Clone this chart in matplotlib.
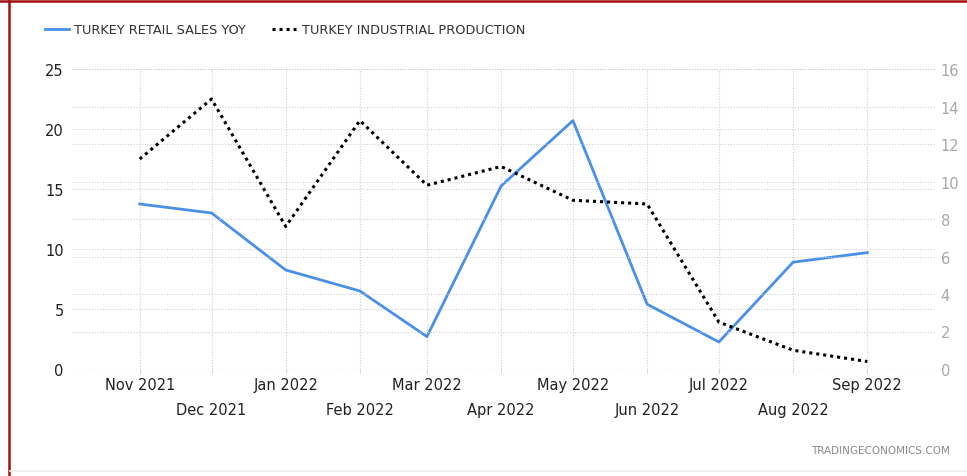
import matplotlib
matplotlib.use("Agg")
import matplotlib.pyplot as plt
import matplotlib.dates as mdates
from matplotlib.lines import Line2D
import datetime as dt

# ---- data ----
months = ["2021-11", "2021-12", "2022-01", "2022-02", "2022-03", "2022-04",
          "2022-05", "2022-06", "2022-07", "2022-08", "2022-09"]
month_labels = ["Nov 2021", "Dec 2021", "Jan 2022", "Feb 2022", "Mar 2022", "Apr 2022",
                "May 2022", "Jun 2022", "Jul 2022", "Aug 2022", "Sep 2022"]
retail_sales_yoy = [13.75, 13.0, 8.25, 6.5, 2.7, 15.25, 20.7, 5.4, 2.25, 8.9, 9.7]
industrial_production = [11.2, 14.4, 7.6, 13.25, 9.8, 10.8, 9.0, 8.8, 2.5, 1.0, 0.4]
left_ticks = [0, 5, 10, 15, 20, 25]
right_ticks = [0, 2, 4, 6, 8, 10, 12, 14, 16]

dates = [dt.datetime.strptime(m, "%Y-%m") for m in months]

W, H = 967, 477
fig = plt.figure(figsize=(W / 100, H / 100), dpi=100)
fig.patch.set_facecolor("white")

ax = fig.add_axes([72 / W, (H - 370) / H, (935 - 72) / W, 300 / H])
ax2 = ax.twinx()

grid_col = "#cfcfcf"
dot = (0, (1, 1.5))

for v in left_ticks:
    ax.axhline(v, color=grid_col, lw=0.8, ls=dot, zorder=0)
for v in right_ticks:
    ax2.axhline(v, color=grid_col, lw=0.8, ls=dot, zorder=0)
for d in dates:
    ax.axvline(d, color=grid_col, lw=0.8, ls=dot, zorder=0)

l1, = ax.plot(dates, retail_sales_yoy, color="#4a90e8", lw=2.0, zorder=3,
              solid_joinstyle="round")
l2, = ax2.plot(dates, industrial_production, color="black", lw=2.2,
               ls=(0, (1, 1.3)), zorder=3)

ax.set_ylim(0, 25)
ax2.set_ylim(0, 16)
ax.set_yticks(left_ticks)
ax2.set_yticks(right_ticks)

pad_days = 28.3
ax.set_xlim(dates[0] - dt.timedelta(days=pad_days), dates[-1] + dt.timedelta(days=pad_days))

ax.set_xticks(dates[0::2])
ax.set_xticklabels(month_labels[0::2])
ax.set_xticks(dates[1::2], minor=True)
ax.set_xticklabels(month_labels[1::2], minor=True)

lab_col = "#222222"
ax.tick_params(axis="x", which="major", length=3, color=grid_col, pad=2.5,
               labelsize=10.5, labelcolor=lab_col)
ax.tick_params(axis="x", which="minor", length=3, color=grid_col, pad=20.5,
               labelsize=10.5, labelcolor=lab_col)
ax.tick_params(axis="y", length=0, pad=6, labelsize=10.5, labelcolor=lab_col)
ax2.tick_params(axis="y", length=0, pad=4, labelsize=10.5, labelcolor="#a8a8a8")

for a in (ax, ax2):
    for s in a.spines.values():
        s.set_visible(False)

fig.legend([l1, l2], ["TURKEY RETAIL SALES YOY", "TURKEY INDUSTRIAL PRODUCTION"],
           loc="center left", bbox_to_anchor=(33 / W, 1 - 31 / H), ncol=2,
           frameon=False, fontsize=9.3, handlelength=1.9, handletextpad=0.4,
           columnspacing=2.0, labelcolor="#333333")

fig.text(950 / W, 1 - 451 / H, "TRADINGECONOMICS.COM", ha="right", va="center",
         fontsize=7.5, color="#8a8a8a")

fig.add_artist(Line2D([0, 1], [1 - 2 / H, 1 - 2 / H], transform=fig.transFigure,
                      color="#a30f0f", lw=1.8))
fig.add_artist(Line2D([8.5 / W, 8.5 / W], [0, 1 - 2 / H], transform=fig.transFigure,
                      color="#a30f0f", lw=1.8))
fig.add_artist(Line2D([10 / W, 1], [1 - 472 / H, 1 - 472 / H], transform=fig.transFigure,
                      color="#eeeeee", lw=1.2))

fig.savefig("out.png", dpi=100, facecolor="white")
